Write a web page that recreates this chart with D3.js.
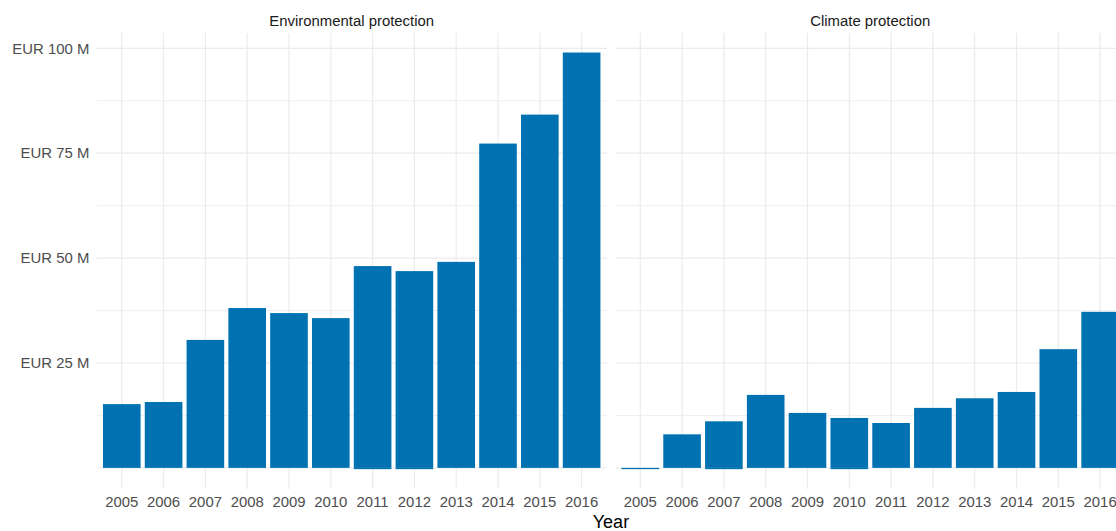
<!DOCTYPE html>
<html>
<head>
<meta charset="utf-8">
<script src="https://cdn.jsdelivr.net/npm/d3@7"></script>
<style>
  html, body { margin: 0; padding: 0; background: #ffffff; }
  svg { display: block; font-family: "Liberation Sans", Arial, Helvetica, sans-serif; }
</style>
</head>
<body>
<svg id="chart" width="1116" height="531"></svg>
<script>
// ---- data (EUR million) ----
const years = ["2005","2006","2007","2008","2009","2010","2011","2012","2013","2014","2015","2016"];
const panels = ["Environmental protection", "Climate protection"];
const envPositive     = [15.2, 15.7, 30.5, 38.1, 36.9, 35.7, 48.1, 46.9, 49.1, 77.3, 84.2, 99.0];
const envNegative     = [0, 0, 0, 0, 0, 0, -0.3, -0.3, 0, 0, 0, 0];
const climatePositive = [0, 8.0, 11.1, 17.4, 13.1, 11.9, 10.7, 14.3, 16.6, 18.1, 28.3, 37.2];
const climateNegative = [-0.3, 0, -0.3, 0, 0, -0.3, 0, 0, 0, 0, 0, 0];
const yMajorTicks = [0, 25, 50, 75, 100];
const yMinorTicks = [12.5, 37.5, 62.5, 87.5];
const xTitle = "Year";
const barColor = "#0072B2";

const seriesByPanel = [
  {name: panels[0], pos: envPositive, neg: envNegative},
  {name: panels[1], pos: climatePositive, neg: climateNegative}
];

// ---- layout ----
const svg = d3.select("#chart");
svg.append("rect").attr("width", 1116).attr("height", 531).attr("fill", "#ffffff");

const panelTop = 33, panelBottom = 489;
const panelWidth = 510;
const panelLefts = [96.7, 615.2];
const fontSize = "14.9px";

const y = d3.scaleLinear().domain([-5.03, 103.65]).range([panelBottom, panelTop]);
const yLabel = v => v === 0 ? "" : "EUR " + v + " M";

seriesByPanel.forEach((s, pi) => {
  const x0 = panelLefts[pi];
  const x = d3.scaleBand().domain(years).range([x0, x0 + panelWidth])
    .paddingInner(0.1).paddingOuter(0.15);

  const g = svg.append("g");

  // minor horizontal gridlines
  g.append("g")
    .selectAll("line").data(yMinorTicks).join("line")
    .attr("x1", x0).attr("x2", x0 + panelWidth)
    .attr("y1", d => y(d)).attr("y2", d => y(d))
    .attr("stroke", "#ebebeb").attr("stroke-width", 0.8);

  // major horizontal gridlines
  g.append("g")
    .selectAll("line").data(yMajorTicks).join("line")
    .attr("x1", x0).attr("x2", x0 + panelWidth)
    .attr("y1", d => y(d)).attr("y2", d => y(d))
    .attr("stroke", "#ebebeb").attr("stroke-width", 1.2);

  // vertical gridlines
  g.append("g")
    .selectAll("line").data(years).join("line")
    .attr("x1", d => x(d) + x.bandwidth() / 2).attr("x2", d => x(d) + x.bandwidth() / 2)
    .attr("y1", panelTop).attr("y2", panelBottom)
    .attr("stroke", "#ebebeb").attr("stroke-width", 1.2);

  // positive bars
  g.append("g")
    .selectAll("rect").data(years.map((yr, i) => ({yr, v: s.pos[i]})).filter(d => d.v > 0)).join("rect")
    .attr("x", d => x(d.yr)).attr("width", x.bandwidth())
    .attr("y", d => y(d.v)).attr("height", d => y(0) - y(d.v))
    .attr("fill", barColor);

  // negative bars
  g.append("g")
    .selectAll("rect").data(years.map((yr, i) => ({yr, v: s.neg[i]})).filter(d => d.v < 0)).join("rect")
    .attr("x", d => x(d.yr)).attr("width", x.bandwidth())
    .attr("y", y(0)).attr("height", d => y(d.v) - y(0))
    .attr("fill", barColor);

  // x axis labels
  const xa = g.append("g")
    .attr("transform", `translate(0,${panelBottom})`)
    .call(d3.axisBottom(x).tickSize(0).tickPadding(7.2));
  xa.select(".domain").remove();
  xa.selectAll("text")
    .attr("fill", "#4d4d4d").style("font-size", fontSize)
    .style("font-family", "'Liberation Sans', Arial, sans-serif");

  // strip title
  g.append("text")
    .attr("x", x0 + panelWidth / 2).attr("y", 25.5)
    .attr("text-anchor", "middle")
    .attr("fill", "#1a1a1a").style("font-size", fontSize)
    .text(s.name);

  // y axis only on first panel
  if (pi === 0) {
    const ya = g.append("g")
      .attr("transform", `translate(${x0},0)`)
      .call(d3.axisLeft(y).tickValues(yMajorTicks).tickFormat(yLabel).tickSize(0).tickPadding(7.4));
    ya.select(".domain").remove();
    ya.selectAll("text")
      .attr("fill", "#4d4d4d").style("font-size", fontSize)
      .style("font-family", "'Liberation Sans', Arial, sans-serif");
  }
});

// x axis title
svg.append("text")
  .attr("x", (panelLefts[0] + panelLefts[1] + panelWidth) / 2).attr("y", 527.5)
  .attr("text-anchor", "middle")
  .attr("fill", "#000000").style("font-size", "18px")
  .text(xTitle);
</script>
</body>
</html>
